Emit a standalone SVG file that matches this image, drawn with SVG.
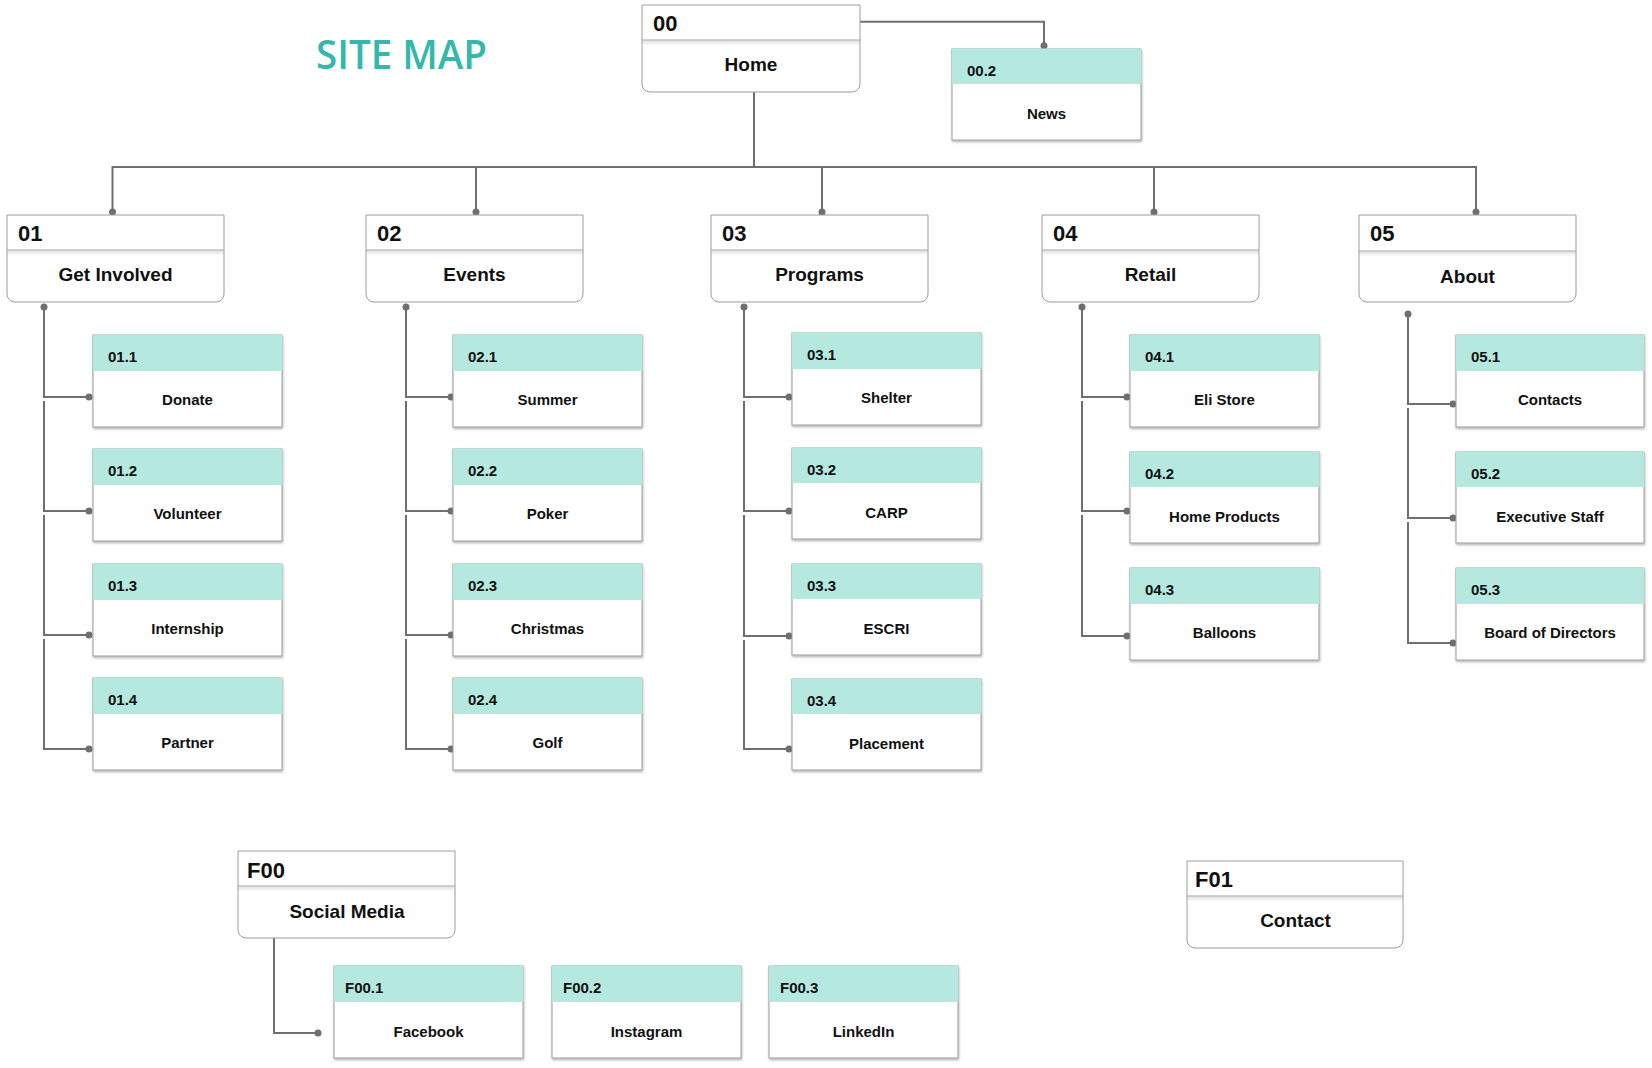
<svg xmlns="http://www.w3.org/2000/svg" width="1652" height="1068" viewBox="0 0 1652 1068">
  <style>
    .pbox { fill: #ffffff; stroke: #9c9c9c; stroke-width: 1; }
    .div { stroke: #a3a3a3; stroke-width: 1.2; }
    .hd { font-family: "Liberation Sans", Arial, sans-serif; font-weight: bold; font-size: 22px; fill: #111111; }
    .lb { font-family: "Liberation Sans", Arial, sans-serif; font-weight: bold; font-size: 19px; fill: #111111; text-anchor: middle; }
    .cbox { fill: #ffffff; stroke: #9a9a9a; stroke-width: 1; }
    .band { fill: #b5e9e0; }
    .cid { font-family: "Liberation Sans", Arial, sans-serif; font-weight: bold; font-size: 15px; fill: #111111; }
    .clb { font-family: "Liberation Sans", Arial, sans-serif; font-weight: bold; font-size: 15px; fill: #111111; text-anchor: middle; }
    .wire { fill: none; stroke: #6f6f6f; stroke-width: 2; }
    .dot { fill: #6f6f6f; }
    .title { font-family: "Open Sans", "Noto Sans", sans-serif; font-weight: 600; font-size: 40px; fill: #33b8ab; }
  </style>
  <defs>
    <filter id="shadow" x="-5%" y="-5%" width="115%" height="120%">
      <feDropShadow dx="0.6" dy="1.6" stdDeviation="1.2" flood-color="#000000" flood-opacity="0.3"/>
    </filter>
    <linearGradient id="divShade" x1="0" y1="0" x2="0" y2="1">
      <stop offset="0" stop-color="#000000" stop-opacity="0.12"/>
      <stop offset="1" stop-color="#000000" stop-opacity="0"/>
    </linearGradient>
  </defs>

  <rect width="1652" height="1068" fill="#ffffff"/>

  <text class="title" x="316" y="68.5" textLength="171" lengthAdjust="spacingAndGlyphs">SITE MAP</text>

  <!-- connectors -->
  <g id="connectors">
    <path class="wire" d="M754 92V167"/>
    <path class="wire" d="M112.5 212V167H1476V212"/>
    <path class="wire" d="M476 167V212M822 167V212M1154 167V212"/>
    <path class="wire" d="M860 21.7H1044V45.7"/>
    <!-- column 01 -->
    <path class="wire" d="M44 307V397H89M44 401V511H89M44 515V635H89M44 639V749H89"/>
    <!-- column 02 -->
    <path class="wire" d="M406 307V397H451M406 401V511H451M406 515V635H451M406 639V749H451"/>
    <!-- column 03 -->
    <path class="wire" d="M744 307V397H789M744 401V511H789M744 515V636H789M744 640V749H789"/>
    <!-- column 04 -->
    <path class="wire" d="M1082 307V397H1127M1082 401V511H1127M1082 515V636H1127"/>
    <!-- column 05 -->
    <path class="wire" d="M1408 314V404H1453M1408 408V518H1453M1408 522V643H1453"/>
    <!-- footer: social media -->
    <path class="wire" d="M274 938V1033H318"/>

    <g class="dot">
      <circle cx="1044" cy="45.7" r="3.5"/>
      <circle cx="112.5" cy="212" r="3.5"/>
      <circle cx="476" cy="212" r="3.5"/>
      <circle cx="822" cy="212" r="3.5"/>
      <circle cx="1154" cy="212" r="3.5"/>
      <circle cx="1476" cy="212" r="3.5"/>
      <circle cx="44" cy="307" r="3.5"/>
      <circle cx="406" cy="307" r="3.5"/>
      <circle cx="744" cy="307" r="3.5"/>
      <circle cx="1082" cy="307" r="3.5"/>
      <circle cx="1408" cy="314" r="3.5"/>
      <circle cx="89" cy="397" r="3.5"/><circle cx="89" cy="511" r="3.5"/><circle cx="89" cy="635" r="3.5"/><circle cx="89" cy="749" r="3.5"/>
      <circle cx="451" cy="397" r="3.5"/><circle cx="451" cy="511" r="3.5"/><circle cx="451" cy="635" r="3.5"/><circle cx="451" cy="749" r="3.5"/>
      <circle cx="789" cy="397" r="3.5"/><circle cx="789" cy="511" r="3.5"/><circle cx="789" cy="636" r="3.5"/><circle cx="789" cy="749" r="3.5"/>
      <circle cx="1127" cy="397" r="3.5"/><circle cx="1127" cy="511" r="3.5"/><circle cx="1127" cy="636" r="3.5"/>
      <circle cx="1453" cy="404" r="3.5"/><circle cx="1453" cy="518" r="3.5"/><circle cx="1453" cy="643" r="3.5"/>
      <circle cx="318" cy="1033" r="3.5"/>
    </g>
  </g>

  <!-- page nodes: header strip with code, rounded bottom -->
  <g id="n00" transform="translate(642,5)">
    <path class="pbox" d="M0 0H218V79A8 8 0 0 1 210 87H8A8 8 0 0 1 0 79Z"/>
    <rect x="0.5" y="35.6" width="217" height="5" fill="url(#divShade)"/>
    <line class="div" x1="0" y1="35" x2="218" y2="35"/>
    <text class="hd" x="11" y="26">00</text>
    <text class="lb" x="109" y="66">Home</text>
  </g>

  <g id="n01" transform="translate(7,215)">
    <path class="pbox" d="M0 0H217V79A8 8 0 0 1 209 87H8A8 8 0 0 1 0 79Z"/>
    <rect x="0.5" y="35.6" width="216" height="5" fill="url(#divShade)"/>
    <line class="div" x1="0" y1="35" x2="217" y2="35"/>
    <text class="hd" x="11" y="26">01</text>
    <text class="lb" x="108.5" y="66">Get Involved</text>
  </g>

  <g id="n02" transform="translate(366,215)">
    <path class="pbox" d="M0 0H217V79A8 8 0 0 1 209 87H8A8 8 0 0 1 0 79Z"/>
    <rect x="0.5" y="35.6" width="216" height="5" fill="url(#divShade)"/>
    <line class="div" x1="0" y1="35" x2="217" y2="35"/>
    <text class="hd" x="11" y="26">02</text>
    <text class="lb" x="108.5" y="66">Events</text>
  </g>

  <g id="n03" transform="translate(711,215)">
    <path class="pbox" d="M0 0H217V79A8 8 0 0 1 209 87H8A8 8 0 0 1 0 79Z"/>
    <rect x="0.5" y="35.6" width="216" height="5" fill="url(#divShade)"/>
    <line class="div" x1="0" y1="35" x2="217" y2="35"/>
    <text class="hd" x="11" y="26">03</text>
    <text class="lb" x="108.5" y="66">Programs</text>
  </g>

  <g id="n04" transform="translate(1042,215)">
    <path class="pbox" d="M0 0H217V79A8 8 0 0 1 209 87H8A8 8 0 0 1 0 79Z"/>
    <rect x="0.5" y="35.6" width="216" height="5" fill="url(#divShade)"/>
    <line class="div" x1="0" y1="35" x2="217" y2="35"/>
    <text class="hd" x="11" y="26">04</text>
    <text class="lb" x="108.5" y="66">Retail</text>
  </g>

  <g id="n05" transform="translate(1359,215)">
    <path class="pbox" d="M0 0H217V79A8 8 0 0 1 209 87H8A8 8 0 0 1 0 79Z"/>
    <rect x="0.5" y="36.6" width="216" height="5" fill="url(#divShade)"/>
    <line class="div" x1="0" y1="36" x2="217" y2="36"/>
    <text class="hd" x="11" y="26">05</text>
    <text class="lb" x="108.5" y="68">About</text>
  </g>

  <g id="nF00" transform="translate(238,851)">
    <path class="pbox" d="M0 0H217V79A8 8 0 0 1 209 87H8A8 8 0 0 1 0 79Z"/>
    <rect x="0.5" y="35.6" width="216" height="5" fill="url(#divShade)"/>
    <line class="div" x1="0" y1="35" x2="217" y2="35"/>
    <text class="hd" x="9" y="26.5">F00</text>
    <text class="lb" x="109" y="66.5">Social Media</text>
  </g>

  <g id="nF01" transform="translate(1187,861)">
    <path class="pbox" d="M0 0H216V79A8 8 0 0 1 208 87H8A8 8 0 0 1 0 79Z"/>
    <rect x="0.5" y="35.6" width="215" height="5" fill="url(#divShade)"/>
    <line class="div" x1="0" y1="35" x2="216" y2="35"/>
    <text class="hd" x="8" y="26">F01</text>
    <text class="lb" x="108.5" y="66">Contact</text>
  </g>

  <!-- sub-page cards: teal code band over white body -->
  <g id="n00_2" transform="translate(952,49)">
    <rect class="cbox" width="189" height="91" filter="url(#shadow)"/>
    <rect class="band" x="0" y="-0.5" width="189.5" height="35.5"/>
    <text class="cid" x="15" y="27">00.2</text>
    <text class="clb" x="94.5" y="70">News</text>
  </g>

  <g id="n01_1" transform="translate(93,335)">
    <rect class="cbox" width="189" height="92" filter="url(#shadow)"/>
    <rect class="band" x="0" y="-0.5" width="189.5" height="36.5"/>
    <text class="cid" x="15" y="27">01.1</text>
    <text class="clb" x="94.5" y="70">Donate</text>
  </g>
  <g id="n01_2" transform="translate(93,449)">
    <rect class="cbox" width="189" height="92" filter="url(#shadow)"/>
    <rect class="band" x="0" y="-0.5" width="189.5" height="36.5"/>
    <text class="cid" x="15" y="27">01.2</text>
    <text class="clb" x="94.5" y="70">Volunteer</text>
  </g>
  <g id="n01_3" transform="translate(93,564)">
    <rect class="cbox" width="189" height="92" filter="url(#shadow)"/>
    <rect class="band" x="0" y="-0.5" width="189.5" height="36.5"/>
    <text class="cid" x="15" y="27">01.3</text>
    <text class="clb" x="94.5" y="70">Internship</text>
  </g>
  <g id="n01_4" transform="translate(93,678)">
    <rect class="cbox" width="189" height="92" filter="url(#shadow)"/>
    <rect class="band" x="0" y="-0.5" width="189.5" height="36.5"/>
    <text class="cid" x="15" y="27">01.4</text>
    <text class="clb" x="94.5" y="70">Partner</text>
  </g>

  <g id="n02_1" transform="translate(453,335)">
    <rect class="cbox" width="189" height="92" filter="url(#shadow)"/>
    <rect class="band" x="0" y="-0.5" width="189.5" height="36.5"/>
    <text class="cid" x="15" y="27">02.1</text>
    <text class="clb" x="94.5" y="70">Summer</text>
  </g>
  <g id="n02_2" transform="translate(453,449)">
    <rect class="cbox" width="189" height="92" filter="url(#shadow)"/>
    <rect class="band" x="0" y="-0.5" width="189.5" height="36.5"/>
    <text class="cid" x="15" y="27">02.2</text>
    <text class="clb" x="94.5" y="70">Poker</text>
  </g>
  <g id="n02_3" transform="translate(453,564)">
    <rect class="cbox" width="189" height="92" filter="url(#shadow)"/>
    <rect class="band" x="0" y="-0.5" width="189.5" height="36.5"/>
    <text class="cid" x="15" y="27">02.3</text>
    <text class="clb" x="94.5" y="70">Christmas</text>
  </g>
  <g id="n02_4" transform="translate(453,678)">
    <rect class="cbox" width="189" height="92" filter="url(#shadow)"/>
    <rect class="band" x="0" y="-0.5" width="189.5" height="36.5"/>
    <text class="cid" x="15" y="27">02.4</text>
    <text class="clb" x="94.5" y="70">Golf</text>
  </g>

  <g id="n03_1" transform="translate(792,333)">
    <rect class="cbox" width="189" height="92" filter="url(#shadow)"/>
    <rect class="band" x="0" y="-0.5" width="189.5" height="36.5"/>
    <text class="cid" x="15" y="27">03.1</text>
    <text class="clb" x="94.5" y="70">Shelter</text>
  </g>
  <g id="n03_2" transform="translate(792,448)">
    <rect class="cbox" width="189" height="91" filter="url(#shadow)"/>
    <rect class="band" x="0" y="-0.5" width="189.5" height="35.5"/>
    <text class="cid" x="15" y="27">03.2</text>
    <text class="clb" x="94.5" y="70">CARP</text>
  </g>
  <g id="n03_3" transform="translate(792,564)">
    <rect class="cbox" width="189" height="91" filter="url(#shadow)"/>
    <rect class="band" x="0" y="-0.5" width="189.5" height="35.5"/>
    <text class="cid" x="15" y="27">03.3</text>
    <text class="clb" x="94.5" y="70">ESCRI</text>
  </g>
  <g id="n03_4" transform="translate(792,679)">
    <rect class="cbox" width="189" height="91" filter="url(#shadow)"/>
    <rect class="band" x="0" y="-0.5" width="189.5" height="35.5"/>
    <text class="cid" x="15" y="27">03.4</text>
    <text class="clb" x="94.5" y="70">Placement</text>
  </g>

  <g id="n04_1" transform="translate(1130,335)">
    <rect class="cbox" width="189" height="92" filter="url(#shadow)"/>
    <rect class="band" x="0" y="-0.5" width="189.5" height="36.5"/>
    <text class="cid" x="15" y="27">04.1</text>
    <text class="clb" x="94.5" y="70">Eli Store</text>
  </g>
  <g id="n04_2" transform="translate(1130,452)">
    <rect class="cbox" width="189" height="91" filter="url(#shadow)"/>
    <rect class="band" x="0" y="-0.5" width="189.5" height="35.5"/>
    <text class="cid" x="15" y="27">04.2</text>
    <text class="clb" x="94.5" y="70">Home Products</text>
  </g>
  <g id="n04_3" transform="translate(1130,568)">
    <rect class="cbox" width="189" height="92" filter="url(#shadow)"/>
    <rect class="band" x="0" y="-0.5" width="189.5" height="36.5"/>
    <text class="cid" x="15" y="27">04.3</text>
    <text class="clb" x="94.5" y="70">Balloons</text>
  </g>

  <g id="n05_1" transform="translate(1456,335)">
    <rect class="cbox" width="188" height="92" filter="url(#shadow)"/>
    <rect class="band" x="0" y="-0.5" width="188.5" height="36.5"/>
    <text class="cid" x="15" y="27">05.1</text>
    <text class="clb" x="94" y="70">Contacts</text>
  </g>
  <g id="n05_2" transform="translate(1456,452)">
    <rect class="cbox" width="188" height="91" filter="url(#shadow)"/>
    <rect class="band" x="0" y="-0.5" width="188.5" height="35.5"/>
    <text class="cid" x="15" y="27">05.2</text>
    <text class="clb" x="94" y="70">Executive Staff</text>
  </g>
  <g id="n05_3" transform="translate(1456,568)">
    <rect class="cbox" width="188" height="92" filter="url(#shadow)"/>
    <rect class="band" x="0" y="-0.5" width="188.5" height="36.5"/>
    <text class="cid" x="15" y="27">05.3</text>
    <text class="clb" x="94" y="70">Board of Directors</text>
  </g>

  <g id="nF00_1" transform="translate(334,966)">
    <rect class="cbox" width="189" height="92" filter="url(#shadow)"/>
    <rect class="band" x="0" y="-0.5" width="189.5" height="36.5"/>
    <text class="cid" x="11" y="27">F00.1</text>
    <text class="clb" x="94.5" y="71">Facebook</text>
  </g>
  <g id="nF00_2" transform="translate(552,966)">
    <rect class="cbox" width="189" height="92" filter="url(#shadow)"/>
    <rect class="band" x="0" y="-0.5" width="189.5" height="36.5"/>
    <text class="cid" x="11" y="27">F00.2</text>
    <text class="clb" x="94.5" y="71">Instagram</text>
  </g>
  <g id="nF00_3" transform="translate(769,966)">
    <rect class="cbox" width="189" height="92" filter="url(#shadow)"/>
    <rect class="band" x="0" y="-0.5" width="189.5" height="36.5"/>
    <text class="cid" x="11" y="27">F00.3</text>
    <text class="clb" x="94.5" y="71">LinkedIn</text>
  </g>
</svg>
